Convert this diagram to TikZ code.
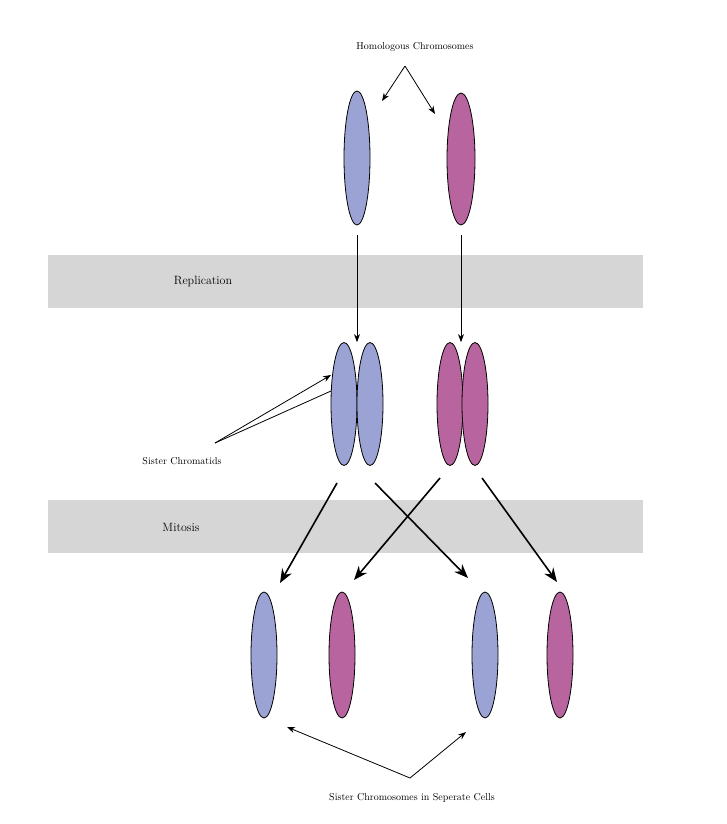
\documentclass[tikz,border=0pt]{standalone}
\usetikzlibrary{arrows.meta}
\definecolor{chrblue}{HTML}{9AA3D3}
\definecolor{chrpink}{HTML}{B8649F}
\definecolor{band}{HTML}{D6D6D6}
\tikzset{
  chr/.style={draw=black,line width=0.8pt,ellipse,minimum width=26pt,minimum height=126pt,inner sep=0pt},
  blue/.style={chr,fill=chrblue},
  pink/.style={chr,fill=chrpink},
  thin arr/.style={-{Stealth[length=8pt,width=6pt]},line width=0.8pt},
  thick arr/.style={-{Stealth[length=14pt,width=11pt]},line width=1.6pt},
  lbl/.style={font=\large}
}
\usetikzlibrary{shapes.geometric}
\begin{document}
\begin{tikzpicture}[x=1pt,y=-1pt]
\useasboundingbox (0,0) rectangle (726,824);
% bands
\fill[band] (48,255) rectangle (643,308);
\fill[band] (48,500) rectangle (643,553);
\node[lbl] (rep) at (203,281) {Replication};
\node[lbl] (mit) at (181,527) {Mitosis};
% top chromosomes
\node[lbl,font=\normalsize] (homo) at (415,47) {Homologous Chromosomes};
\node[blue,minimum height=134pt] (b0) at (357,158) {};
\node[pink,minimum width=28pt,minimum height=132pt] (p0) at (461,159) {};
\coordinate (hsplit) at (405,66);
\draw[thin arr] (hsplit) -- (382,101);
\draw[thin arr] (hsplit) -- (435,114);
% replication
\node[blue,minimum height=123pt] (b1a) at (344,404) {};
\node[blue,minimum height=123pt] (b1b) at (370,404) {};
\node[pink,minimum height=123pt] (p1a) at (450,404) {};
\node[pink,minimum height=123pt] (p1b) at (475,404) {};
\draw[thin arr] (b0.south) ++(0,10) -- (b1a.north -| b0.south);
\draw[thin arr] (p0.south) ++(0,10) -- (p1a.north -| p0.south);
\node[lbl,font=\normalsize] (sis) at (182,461) {Sister Chromatids};
\coordinate (ssplit) at (215,443);
\draw[thin arr] (ssplit) -- (331,375);
\draw[line width=0.8pt] (ssplit) -- (331,391);
% mitosis
\node[blue] (b2a) at (264,655) {};
\node[pink] (p2a) at (342,655) {};
\node[blue] (b2b) at (485,655) {};
\node[pink] (p2b) at (560,655) {};
\draw[thick arr] (337,483) -- (280,583);
\draw[thick arr] (375,483) -- (468,578);
\draw[thick arr] (440,478) -- (354,580);
\draw[thick arr] (482,478) -- (557,582);
% bottom
\node[lbl,font=\normalsize] (sep) at (412,798) {Sister Chromosomes in Seperate Cells};
\coordinate (bsplit) at (410,778);
\draw[thin arr] (bsplit) -- (287,727);
\draw[thin arr] (bsplit) -- (466,732);
\end{tikzpicture}
\end{document}
